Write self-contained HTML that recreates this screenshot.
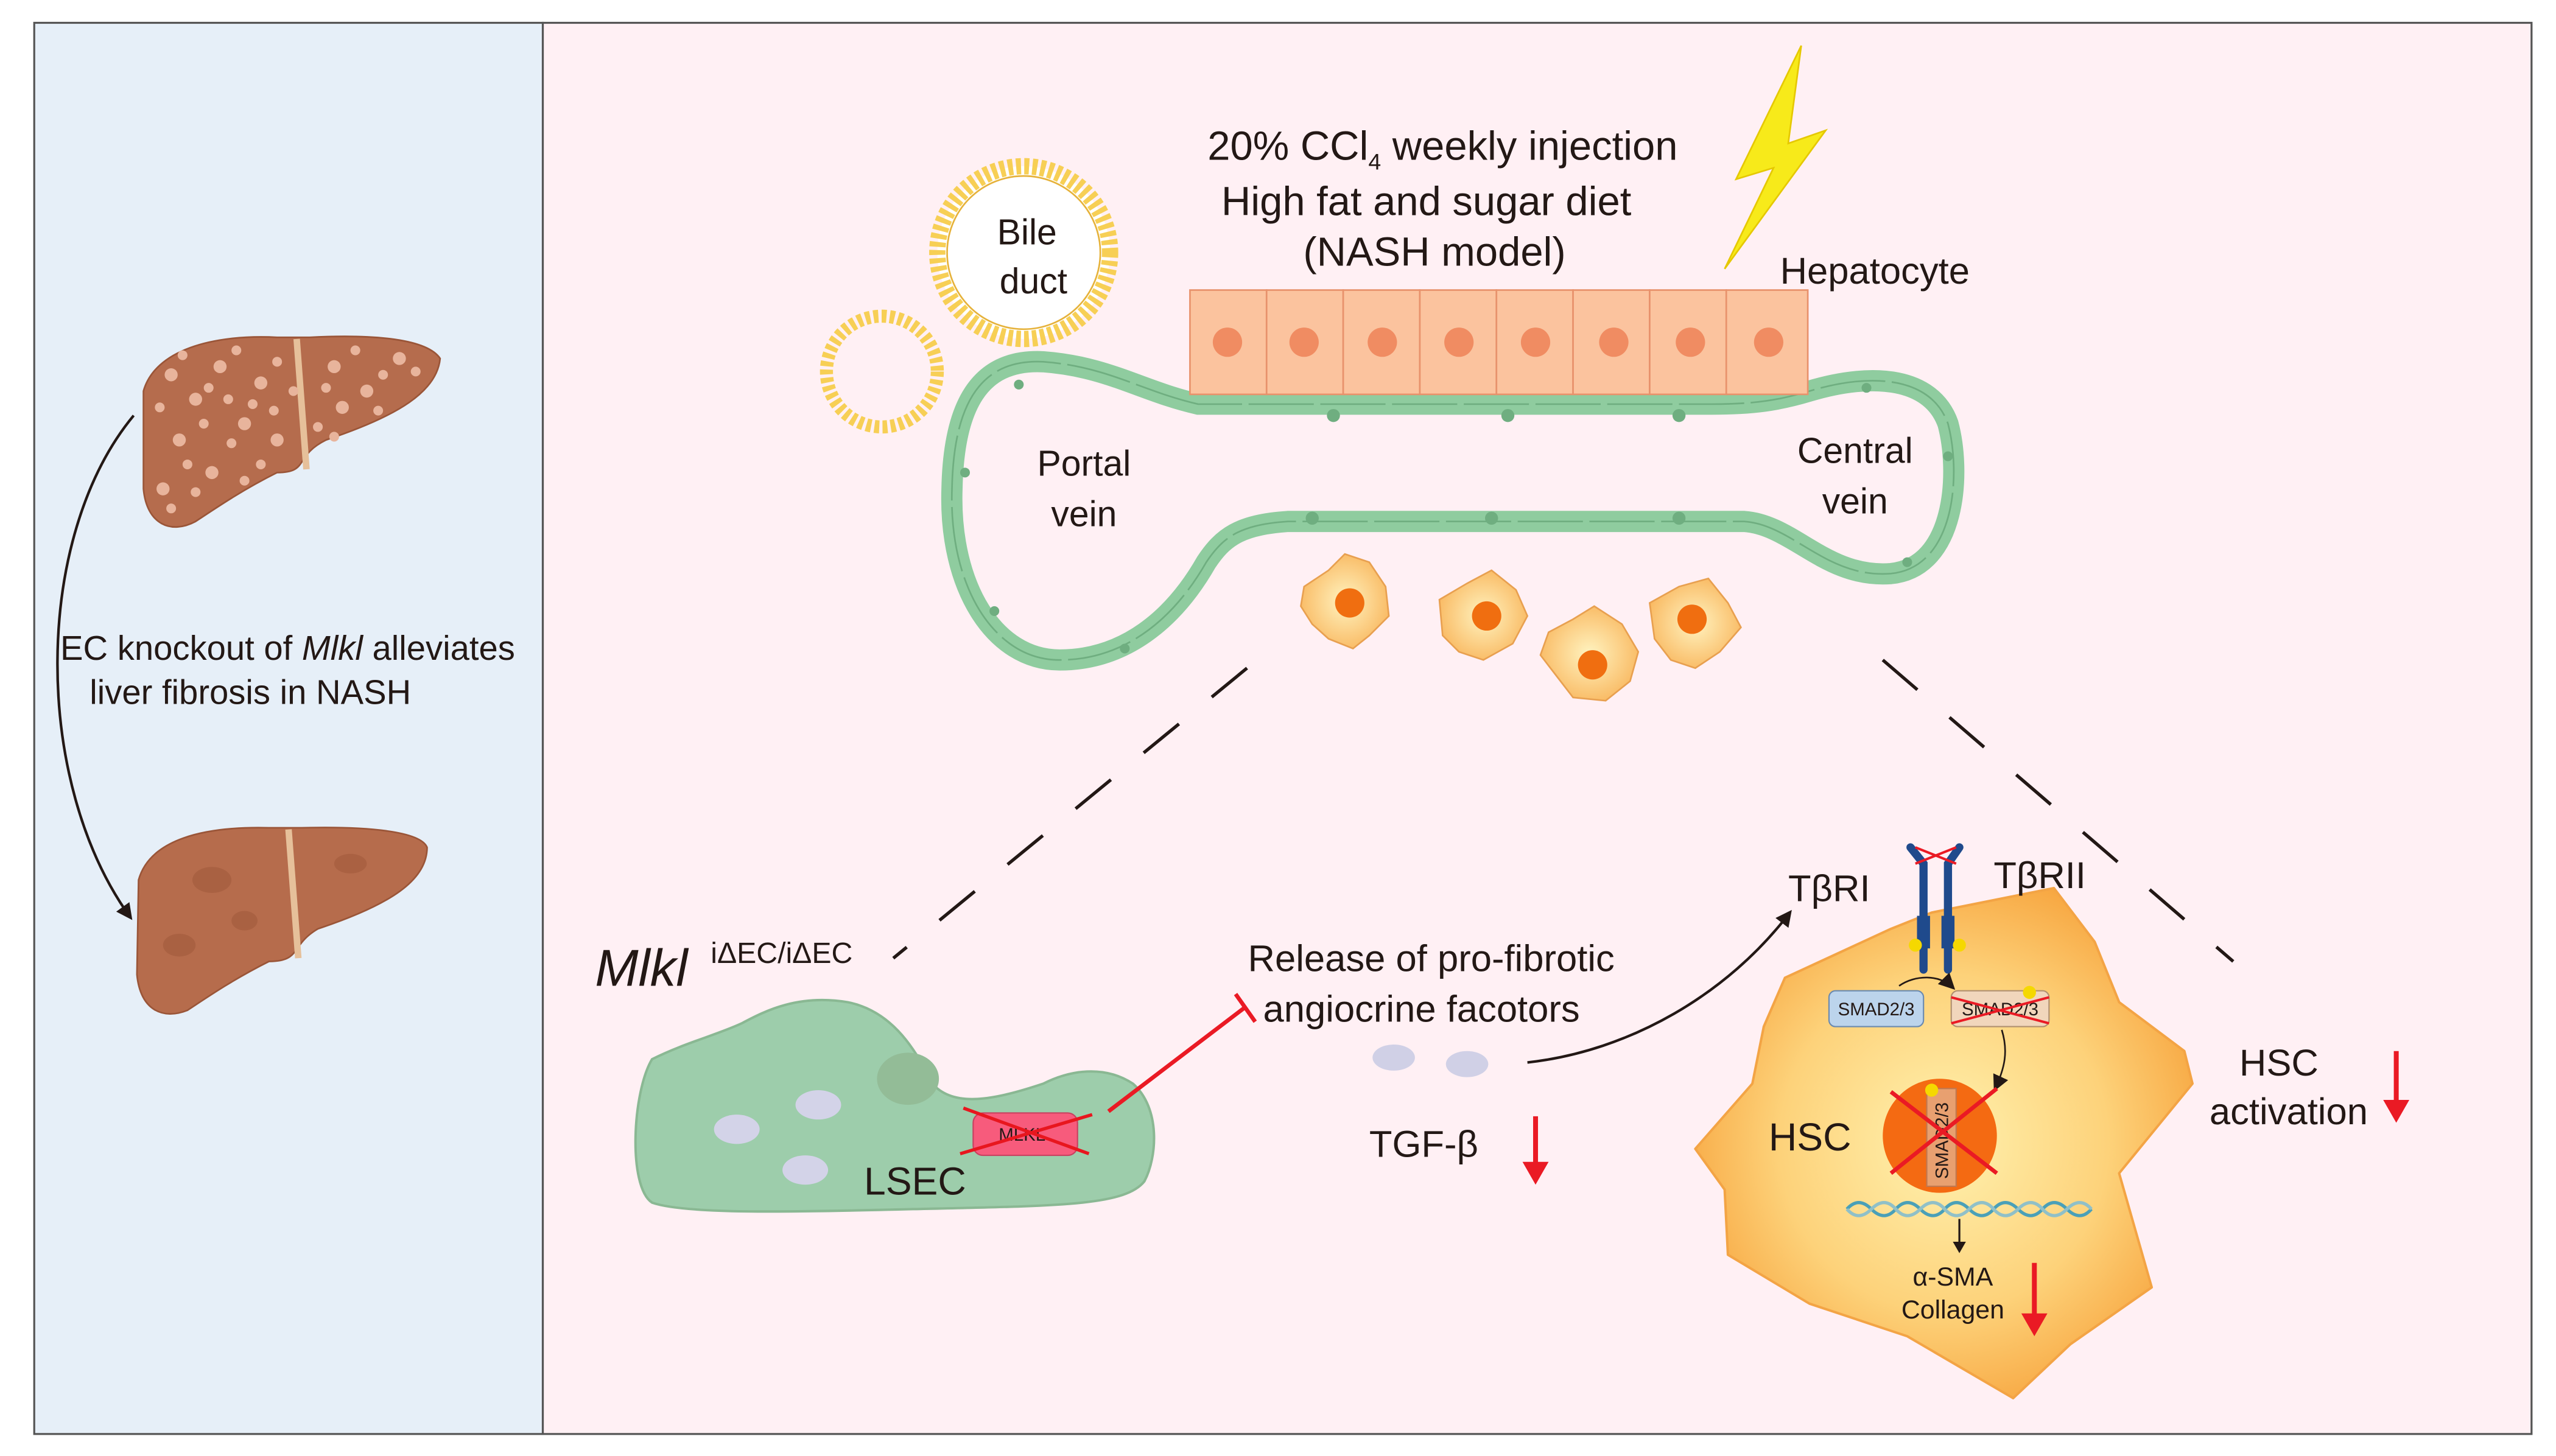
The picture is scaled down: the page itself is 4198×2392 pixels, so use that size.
<!DOCTYPE html>
<html><head><meta charset="utf-8"><style>
html,body{margin:0;padding:0;background:#fff;}
svg{display:block;}
text{font-family:"Liberation Sans",Arial,sans-serif;fill:#231815;}
</style></head><body>
<svg width="4198" height="2392" viewBox="0 0 1568 893.5" preserveAspectRatio="none" xmlns="http://www.w3.org/2000/svg">
<defs>
<radialGradient id="hsc" cx="50%" cy="50%" r="55%">
<stop offset="0" stop-color="#fff2b0"/><stop offset="0.6" stop-color="#fdd27a"/><stop offset="1" stop-color="#f7a640"/>
</radialGradient>
<radialGradient id="sm" cx="50%" cy="50%" r="55%">
<stop offset="0" stop-color="#fff3c0"/><stop offset="1" stop-color="#f9b860"/>
</radialGradient>
<marker id="ah" markerWidth="10" markerHeight="10" refX="8" refY="5" orient="auto" markerUnits="userSpaceOnUse"><path d="M0,0 L10,5 L0,10 z" fill="#231815"/></marker>
</defs>
<rect x="0" y="0" width="1568" height="893.5" fill="#fff"/>
<rect x="21" y="14" width="312" height="866" fill="#e6eff8" stroke="#555" stroke-width="1.2"/>
<rect x="333" y="14" width="1220" height="866" fill="#fff0f4" stroke="#555" stroke-width="1.2"/>

<!-- livers -->
<path d="M88,240 C95,215 130,205 170,207 L190,207 C230,205 262,208 270,220 C268,240 245,255 200,270 C180,280 190,290 170,290 C150,300 135,310 120,320 C105,328 90,322 88,300 Z" fill="#b56c4d" stroke="#9a5538" stroke-width="1"/>
<path d="M182,208 L188,288" stroke="#e6c09a" stroke-width="4"/>
<g fill="#e8b49c">
<circle cx="105" cy="230" r="4"/><circle cx="120" cy="245" r="4"/><circle cx="135" cy="225" r="4"/><circle cx="150" cy="260" r="4"/><circle cx="110" cy="270" r="4"/><circle cx="160" cy="235" r="4"/><circle cx="130" cy="290" r="4"/><circle cx="205" cy="225" r="4"/><circle cx="225" cy="240" r="4"/><circle cx="245" cy="220" r="4"/><circle cx="210" cy="250" r="4"/><circle cx="170" cy="270" r="4"/><circle cx="100" cy="300" r="4"/><circle cx="145" cy="215" r="3"/><circle cx="125" cy="260" r="3"/><circle cx="235" cy="230" r="3"/><circle cx="195" cy="262" r="3"/><circle cx="115" cy="285" r="3"/><circle cx="160" cy="285" r="3"/><circle cx="140" cy="245" r="3"/>
<circle cx="98" cy="250" r="3"/><circle cx="112" cy="218" r="3"/><circle cx="128" cy="238" r="3"/><circle cx="142" cy="272" r="3"/><circle cx="155" cy="248" r="3"/><circle cx="170" cy="222" r="3"/><circle cx="168" cy="252" r="3"/><circle cx="200" cy="238" r="3"/><circle cx="218" cy="215" r="3"/><circle cx="232" cy="252" r="3"/><circle cx="255" cy="228" r="3"/><circle cx="105" cy="312" r="3"/><circle cx="120" cy="302" r="3"/><circle cx="150" cy="295" r="3"/><circle cx="205" cy="268" r="3"/><circle cx="180" cy="240" r="3"/>
</g>
<path d="M85,540 C92,515 125,507 165,508 L185,508 C225,507 258,510 262,520 C262,540 240,555 195,570 C178,580 185,590 165,590 C145,600 130,610 115,620 C100,626 86,620 84,598 Z" fill="#b66c4c" stroke="#9a5538" stroke-width="1"/>
<path d="M177,509 L183,588" stroke="#e6c09a" stroke-width="4"/>
<g fill="#a25a3c" opacity="0.6"><ellipse cx="130" cy="540" rx="12" ry="8"/><ellipse cx="215" cy="530" rx="10" ry="6"/><ellipse cx="110" cy="580" rx="10" ry="7"/><ellipse cx="150" cy="565" rx="8" ry="6"/></g>
<path d="M82,255 C20,330 20,480 80,563" fill="none" stroke="#231815" stroke-width="1.6" marker-end="url(#ah)"/>
<text x="37" y="405" font-size="21">EC knockout of <tspan font-style="italic">Mlkl</tspan> alleviates</text>
<text x="55" y="432" font-size="21">liver fibrosis in NASH</text>

<!-- bile ducts -->
<circle cx="628" cy="155" r="53" fill="#fff" stroke="#f7cf55" stroke-width="10" stroke-dasharray="3 2"/>
<circle cx="628" cy="155" r="47" fill="#fff" stroke="#e6b23a" stroke-width="1"/>
<circle cx="541" cy="228" r="34" fill="none" stroke="#f7cf55" stroke-width="8" stroke-dasharray="3 2"/>
<text x="630" y="150" font-size="22" text-anchor="middle">Bile</text>
<text x="634" y="180" font-size="22" text-anchor="middle">duct</text>

<text x="885" y="98" font-size="25" text-anchor="middle">20% CCl<tspan font-size="14" dy="6">4</tspan><tspan dy="-6"> weekly injection</tspan></text>
<text x="875" y="132" font-size="25" text-anchor="middle">High fat and sugar diet</text>
<text x="880" y="163" font-size="25" text-anchor="middle">(NASH model)</text>
<path d="M1105,28 L1065,110 L1088,103 L1058,165 L1120,80 L1097,88 Z" fill="#f7ea1a" stroke="#e5c800" stroke-width="1"/>
<text x="1092" y="174" font-size="23">Hepatocyte</text>

<!-- vessel -->
<path d="M735,248 C700,240 680,225 640,222 C600,220 585,250 584,300 C582,360 610,405 650,405 C690,405 720,380 740,345 C750,330 760,322 790,320 L1070,320 C1100,322 1120,355 1160,352 C1200,348 1203,290 1195,260 C1185,232 1150,228 1110,240 C1090,246 1075,248 1050,248 Z" fill="none" stroke="#8fcc9f" stroke-width="13"/>
<path d="M735,248 C700,240 680,225 640,222 C600,220 585,250 584,300 C582,360 610,405 650,405 C690,405 720,380 740,345 C750,330 760,322 790,320 L1070,320 C1100,322 1120,355 1160,352 C1200,348 1203,290 1195,260 C1185,232 1150,228 1110,240 C1090,246 1075,248 1050,248 Z" fill="none" stroke="#6fae80" stroke-width="1" stroke-dasharray="40 4"/>
<g fill="#6fae80"><circle cx="625" cy="236" r="3"/><circle cx="592" cy="290" r="3"/><circle cx="610" cy="375" r="3"/><circle cx="690" cy="398" r="3"/><circle cx="818" cy="255" r="4"/><circle cx="925" cy="255" r="4"/><circle cx="1030" cy="255" r="4"/><circle cx="915" cy="318" r="4"/><circle cx="1030" cy="318" r="4"/><circle cx="805" cy="318" r="4"/><circle cx="1170" cy="345" r="3"/><circle cx="1195" cy="280" r="3"/><circle cx="1145" cy="238" r="3"/></g>

<!-- hepatocytes -->
<g fill="#fbc39e" stroke="#e8926c" stroke-width="1">
<rect x="730" y="178" width="47" height="64"/><rect x="777" y="178" width="47" height="64"/><rect x="824" y="178" width="47" height="64"/><rect x="871" y="178" width="47" height="64"/><rect x="918" y="178" width="47" height="64"/><rect x="965" y="178" width="47" height="64"/><rect x="1012" y="178" width="47" height="64"/><rect x="1059" y="178" width="50" height="64"/>
</g>
<g fill="#f08c62"><circle cx="753" cy="210" r="9"/><circle cx="800" cy="210" r="9"/><circle cx="848" cy="210" r="9"/><circle cx="895" cy="210" r="9"/><circle cx="942" cy="210" r="9"/><circle cx="990" cy="210" r="9"/><circle cx="1037" cy="210" r="9"/><circle cx="1085" cy="210" r="9"/></g>

<text x="665" y="292" font-size="22" text-anchor="middle">Portal</text>
<text x="665" y="323" font-size="22" text-anchor="middle">vein</text>
<text x="1138" y="284" font-size="22" text-anchor="middle">Central</text>
<text x="1138" y="315" font-size="22" text-anchor="middle">vein</text>

<!-- small HSCs -->
<g fill="url(#sm)" stroke="#e8a050" stroke-width="1">
<path d="M800,360 L815,350 L825,340 L840,345 L850,360 L852,378 L840,390 L830,398 L815,392 L805,383 L798,372 Z"/>
<path d="M883,368 L900,358 L915,350 L930,362 L937,378 L928,395 L910,405 L895,400 L885,390 Z"/>
<path d="M950,388 L965,380 L978,372 L995,383 L1005,400 L1000,418 L985,430 L965,428 L955,415 L945,402 Z"/>
<path d="M1012,370 L1030,360 L1048,355 L1060,370 L1068,385 L1055,400 L1040,410 L1025,405 L1015,392 Z"/>
</g>
<g fill="#f06e10"><circle cx="828" cy="370" r="9"/><circle cx="912" cy="378" r="9"/><circle cx="977" cy="408" r="9"/><circle cx="1038" cy="380" r="9"/></g>

<!-- dashed lines -->
<line x1="765" y1="410" x2="548" y2="588" stroke="#231815" stroke-width="2" stroke-dasharray="28 26"/>
<line x1="1155" y1="405" x2="1370" y2="590" stroke="#231815" stroke-width="2" stroke-dasharray="28 26"/>

<text x="365" y="605" font-size="32" font-style="italic">Mlkl</text>
<text x="436" y="591" font-size="18">iΔEC/iΔEC</text>

<!-- LSEC -->
<path d="M400,650 C420,640 440,635 455,628 C470,620 490,610 520,615 C545,620 560,640 572,665 C585,680 610,675 640,665 C660,655 680,655 695,665 C712,680 710,710 702,725 C690,740 650,740 560,742 C480,744 420,745 400,738 C385,728 388,670 400,650 Z" fill="#9dcdab" stroke="#8ab893" stroke-width="1.5"/>
<ellipse cx="557" cy="662" rx="19" ry="16" fill="#93bc97"/>
<g fill="#d3d3e8"><ellipse cx="452" cy="693" rx="14" ry="9"/><ellipse cx="502" cy="678" rx="14" ry="9"/><ellipse cx="494" cy="718" rx="14" ry="9"/></g>
<rect x="597" y="683" width="64" height="26" rx="6" fill="#f75b7c" stroke="#c94060" stroke-width="0.8"/>
<text x="627" y="700" font-size="11" text-anchor="middle">MLKL</text>
<line x1="591" y1="680" x2="668" y2="708" stroke="#e8161e" stroke-width="2"/>
<line x1="589" y1="708" x2="670" y2="684" stroke="#e8161e" stroke-width="2"/>
<text x="530" y="733" font-size="24">LSEC</text>
<line x1="680" y1="682" x2="764" y2="618" stroke="#ea1a24" stroke-width="2.5"/>
<line x1="758" y1="610" x2="770" y2="627" stroke="#ea1a24" stroke-width="2.5"/>

<text x="878" y="596" font-size="23" text-anchor="middle">Release of pro-fibrotic</text>
<text x="872" y="627" font-size="23" text-anchor="middle">angiocrine facotors</text>
<g fill="#d0d0e6"><ellipse cx="855" cy="649" rx="13" ry="8"/><ellipse cx="900" cy="653" rx="13" ry="8"/></g>
<text x="840" y="710" font-size="23">TGF-β</text>
<line x1="942" y1="685" x2="942" y2="715" stroke="#ea1a24" stroke-width="3"/>
<path d="M934,713 L950,713 L942,727 Z" fill="#ea1a24"/>
<path d="M937,652 C1000,645 1060,610 1098,560" fill="none" stroke="#231815" stroke-width="1.6" marker-end="url(#ah)"/>

<!-- big HSC -->
<path d="M1095,600 L1160,570 L1185,560 L1260,545 L1285,578 L1300,615 L1340,645 L1345,665 L1300,720 L1320,790 L1270,825 L1235,858 L1170,820 L1110,800 L1060,770 L1058,730 L1040,705 L1075,665 L1082,630 Z" fill="url(#hsc)" stroke="#f3a445" stroke-width="1.5" stroke-linejoin="round"/>
<text x="1097" y="553" font-size="23">TβRI</text>
<text x="1223" y="545" font-size="23">TβRII</text>
<g stroke="#1f4a8c" stroke-width="5" fill="none" stroke-linecap="round">
<path d="M1172,520 L1180,530 L1180,595"/><path d="M1202,520 L1195,530 L1195,595"/>
</g>
<rect x="1176" y="562" width="8" height="20" fill="#1f4a8c"/><rect x="1191" y="562" width="8" height="20" fill="#1f4a8c"/>
<line x1="1175" y1="520" x2="1200" y2="530" stroke="#ea1a24" stroke-width="1.5"/><line x1="1175" y1="530" x2="1200" y2="520" stroke="#ea1a24" stroke-width="1.5"/>
<circle cx="1175" cy="580" r="4" fill="#f5d800"/><circle cx="1202" cy="580" r="4" fill="#f5d800"/>
<rect x="1122" y="608" width="58" height="22" rx="4" fill="#bcd4ec" stroke="#6a8ab0" stroke-width="0.8"/>
<text x="1151" y="623" font-size="11" text-anchor="middle">SMAD2/3</text>
<rect x="1197" y="608" width="60" height="22" rx="4" fill="#f1d6bc" stroke="#b09070" stroke-width="0.8"/>
<text x="1227" y="623" font-size="11" text-anchor="middle">SMAD2/3</text>
<line x1="1197" y1="612" x2="1257" y2="628" stroke="#ea1a24" stroke-width="1.5"/><line x1="1197" y1="628" x2="1257" y2="612" stroke="#ea1a24" stroke-width="1.5"/>
<circle cx="1245" cy="609" r="4" fill="#f5d800"/>
<path d="M1165,605 C1175,598 1190,598 1198,606" fill="none" stroke="#231815" stroke-width="1" marker-end="url(#ah)"/>
<path d="M1228,632 C1232,645 1230,655 1224,668" fill="none" stroke="#231815" stroke-width="1" marker-end="url(#ah)"/>
<circle cx="1190" cy="697" r="35" fill="#f46a12"/>
<rect x="1182" y="668" width="18" height="60" fill="#e8a070" stroke="#c07850" stroke-width="0.8"/>
<text x="1195" y="700" font-size="11" text-anchor="middle" transform="rotate(-90 1195 700)">SMAD2/3</text>
<line x1="1160" y1="670" x2="1225" y2="720" stroke="#ea1a24" stroke-width="2.5"/><line x1="1160" y1="720" x2="1225" y2="668" stroke="#ea1a24" stroke-width="2.5"/>
<circle cx="1185" cy="669" r="4" fill="#f5d800"/>
<text x="1085" y="706" font-size="24">HSC</text>
<path d="M1133,742 Q1140,734 1148,742 T1163,742 T1178,742 T1193,742 T1208,742 T1223,742 T1238,742 T1253,742 T1268,742 T1283,742" fill="none" stroke="#4aa0b8" stroke-width="2"/>
<path d="M1133,742 Q1140,750 1148,742 T1163,742 T1178,742 T1193,742 T1208,742 T1223,742 T1238,742 T1253,742 T1268,742 T1283,742" fill="none" stroke="#90c0c8" stroke-width="2"/>
<line x1="1202" y1="748" x2="1202" y2="764" stroke="#231815" stroke-width="1.2"/>
<path d="M1198,762 L1206,762 L1202,769 Z" fill="#231815"/>
<text x="1198" y="789" font-size="16" text-anchor="middle">α-SMA</text>
<text x="1198" y="809" font-size="16" text-anchor="middle">Collagen</text>
<line x1="1248" y1="775" x2="1248" y2="808" stroke="#ea1a24" stroke-width="3"/>
<path d="M1240,806 L1256,806 L1248,820 Z" fill="#ea1a24"/>

<text x="1398" y="660" font-size="23" text-anchor="middle">HSC</text>
<text x="1404" y="690" font-size="23" text-anchor="middle">activation</text>
<line x1="1470" y1="645" x2="1470" y2="677" stroke="#ea1a24" stroke-width="3"/>
<path d="M1462,675 L1478,675 L1470,689 Z" fill="#ea1a24"/>
</svg>
</body></html>
